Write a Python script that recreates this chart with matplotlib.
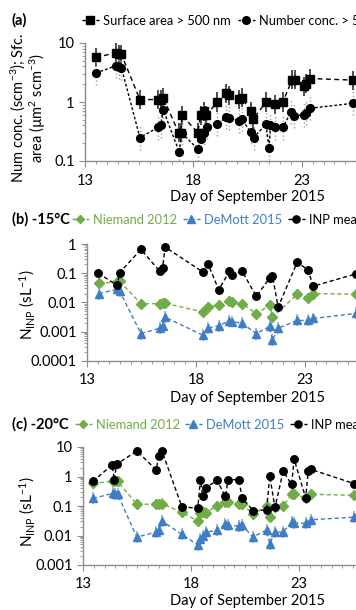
import numpy as np
import matplotlib
matplotlib.use("Agg")
import matplotlib.pyplot as plt
from matplotlib.lines import Line2D
from matplotlib.ticker import FixedLocator, MultipleLocator, FuncFormatter, LogLocator, NullFormatter

plt.rcParams['font.family'] = ['Lato', 'DejaVu Sans']
plt.rcParams['mathtext.fontset'] = 'custom'
plt.rcParams['mathtext.rm'] = 'Lato'
plt.rcParams['mathtext.default'] = 'regular'

# ---------------- data ----------------
# panel (a)
day_sfc = [13.5, 14.42, 14.55, 14.68, 15.53, 16.37, 16.49, 16.61, 17.32, 17.42, 17.47,
           18.2, 18.33, 18.48, 18.6, 19.1, 19.5, 19.63, 20.1, 20.23, 20.63, 20.74,
           21.35, 21.74, 22.12, 22.55, 22.66, 23.08, 23.2, 23.35, 25.35]
sfc_area = [5.7, 6.8, 6.5, 6.4, 1.1, 1.1, 1.1, 1.18, 0.30, 0.30, 0.60,
            0.30, 0.60, 0.70, 0.60, 1.0, 1.4, 1.3, 1.12, 1.18, 0.70, 0.51,
            1.0, 0.91, 1.0, 2.4, 2.4, 1.85, 2.05, 2.5, 2.35]
day_num = [13.5, 14.42, 14.55, 14.68, 15.53, 16.37, 16.49, 16.61, 17.35, 17.45,
           18.2, 18.35, 18.48, 18.63, 19.1, 19.52, 19.65, 20.09, 20.22, 20.63, 20.77,
           21.35, 21.48, 21.55, 21.74, 22.12, 22.51, 22.62, 23.08, 23.2, 23.35, 25.35]
num_conc = [3.1, 4.1, 3.9, 3.8, 0.25, 0.37, 0.40, 0.73, 0.14, 0.30,
            0.16, 0.235, 0.30, 0.38, 0.42, 0.56, 0.53, 0.48, 0.52, 0.31, 0.25,
            0.42, 0.164, 0.40, 0.37, 0.37, 0.69, 0.59, 0.60, 0.65, 0.78, 0.95]

# panel (b) -15 C
day_b_inp = [13.52, 14.39, 14.5, 15.48, 16.35, 16.47, 16.59, 18.32, 18.56, 19.05, 19.54,
             19.67, 20.13, 20.78, 21.39, 21.52, 21.78, 22.66, 23.14, 23.4, 25.37]
inp_b = [0.1, 0.038, 0.105, 0.65, 0.115, 0.15, 0.78, 0.11, 0.21, 0.027, 0.115,
         0.087, 0.115, 0.016, 0.068, 0.082, 0.0069, 0.24, 0.13, 0.036, 0.095]
day_b_nie = [13.55, 14.39, 14.5, 15.48, 16.35, 16.47, 16.59, 18.32, 18.56, 19.05, 19.54,
             19.67, 20.13, 20.78, 21.39, 21.52, 22.66, 23.14, 23.4, 25.37]
niemand_b = [0.045, 0.05, 0.052, 0.009, 0.009, 0.0093, 0.0093, 0.0047, 0.0069, 0.008, 0.011,
             0.0103, 0.009, 0.0041, 0.0079, 0.0031, 0.019, 0.0145, 0.02, 0.019]
day_b_dem = [13.55, 14.39, 14.5, 15.48, 16.35, 16.47, 16.59, 18.32, 18.56, 19.05, 19.54,
             19.67, 20.13, 20.78, 21.39, 21.52, 21.78, 22.66, 23.14, 23.4, 25.37]
demott_b = [0.02, 0.028, 0.024, 0.00085, 0.0013, 0.0015, 0.0031, 0.00075, 0.0013, 0.0016, 0.0023,
            0.0022, 0.0019, 0.00085, 0.0015, 0.0005, 0.0013, 0.0024, 0.0024, 0.0028, 0.0042]

# panel (c) -20 C
day_c_inp = [13.46, 14.35, 14.45, 14.55, 15.49, 16.38, 16.51, 16.65, 17.57, 18.31, 18.43,
             18.54, 18.69, 19.2, 19.59, 19.71, 20.21, 20.36, 20.87, 21.49, 21.64, 21.88,
             22.26, 22.65, 22.77, 23.3, 23.42, 23.54, 25.55]
inp_c = [0.68, 2.5, 0.75, 2.6, 7.3, 1.7, 4.9, 7.5, 0.095, 0.083, 0.78,
         0.21, 0.42, 0.74, 0.21, 0.78, 0.78, 0.19, 0.07, 0.073, 1.04, 0.09,
         1.5, 0.54, 3.8, 0.19, 1.5, 1.75, 0.57]
day_c_nie = [13.46, 14.38, 14.5, 14.6, 15.49, 16.38, 16.51, 16.65, 17.57, 18.31, 18.43,
             18.54, 18.69, 19.2, 19.59, 19.71, 20.21, 20.36, 20.87, 21.49, 21.64,
             22.26, 22.65, 22.77, 23.3, 23.54, 25.55]
niemand_c = [0.58, 0.7, 0.7, 0.68, 0.115, 0.115, 0.115, 0.12, 0.061, 0.031, 0.06,
             0.065, 0.06, 0.10, 0.14, 0.135, 0.117, 0.117, 0.052, 0.10, 0.042,
             0.10, 0.25, 0.25, 0.19, 0.25, 0.23]
day_c_dem = [13.46, 14.38, 14.5, 14.6, 15.49, 16.38, 16.51, 16.65, 17.57, 18.31, 18.43,
             18.54, 18.69, 19.2, 19.59, 19.71, 20.21, 20.36, 20.87, 21.49, 21.64, 21.88,
             22.26, 22.65, 22.77, 23.3, 23.54, 25.55]
demott_c = [0.18, 0.27, 0.25, 0.25, 0.0088, 0.013, 0.015, 0.031, 0.011, 0.0048, 0.0075,
            0.0095, 0.013, 0.015, 0.024, 0.022, 0.021, 0.022, 0.0088, 0.0155, 0.0052, 0.013,
            0.013, 0.028, 0.026, 0.026, 0.034, 0.042]

# multiplicative uncertainty factors
err_sfc = 1.45
err_num = 1.6
err_nie = 1.5
err_dem = 1.6
err_inp = 1.25

x_major = [13, 18, 23]
xlabel = "Day of September 2015"
labels_a = ['Surface area > 500 nm', 'Number conc. > 500 nm']
labels_inp = ['Niemand 2012', 'DeMott 2015', 'INP mean']

GREEN = '#70AD47'
BLUE = '#3F7DC6'
GREEN_E = '#A9D08E'
BLUE_E = '#8FB4E3'
AXC = '#8C8C8C'

LEG_FS = 9.3
TICK_FS = 10.5
LAB_FS = 10.5

W, H = 356, 610
fig = plt.figure(figsize=(W / 100, H / 100), dpi=100)


def px_axes(x0, x1, ytop, ybot):
    return fig.add_axes([x0 / W, 1 - ybot / H, (x1 - x0) / W, (ybot - ytop) / H])


def logerr(v, f):
    v = np.asarray(v, float)
    return np.vstack([v - v / f, v * f - v])


def style(ax, ylim):
    ax.set_yscale('log')
    ax.set_ylim(*ylim)
    ax.set_xlim(13, 26)
    for s in ['top', 'right']:
        ax.spines[s].set_visible(False)
    for s in ['left', 'bottom']:
        ax.spines[s].set_color(AXC)
        ax.spines[s].set_linewidth(1.0)
    ax.xaxis.set_major_locator(FixedLocator(x_major))
    ax.xaxis.set_minor_locator(MultipleLocator(0.5))
    ax.yaxis.set_major_locator(LogLocator(base=10, numticks=10))
    ax.yaxis.set_minor_locator(LogLocator(base=10, subs=np.arange(2, 10), numticks=20))
    ax.yaxis.set_minor_formatter(NullFormatter())
    ax.yaxis.set_major_formatter(FuncFormatter(lambda v, p: '{:g}'.format(v)))
    ax.tick_params(which='both', color=AXC, labelsize=TICK_FS, direction='out')
    ax.tick_params(which='major', length=4)
    ax.tick_params(which='minor', length=2.5)
    ax.tick_params(axis='x', pad=5)


def dashed(ax, x, y, color, marker, ms, dash=(3, 2), lw=1.0, zorder=3):
    ax.plot(x, y, color=color, lw=lw, dashes=dash, marker=marker, ms=ms,
            mec=color, mfc=color, zorder=zorder, clip_on=False)


def legend_row(handles, labels, xs, yc, colored):
    for h, lab, x0 in zip(handles, labels, xs):
        kw = dict(labelcolor='linecolor') if colored else {}
        fig.legend([h], [lab], loc='center left',
                   bbox_to_anchor=(x0 / W, 1 - yc / H), bbox_transform=fig.transFigure,
                   frameon=False, borderpad=0, borderaxespad=0, handlelength=1.3,
                   handletextpad=0.3, fontsize=LEG_FS, **kw)


# ---------------- panel (a) ----------------
ax_a = px_axes(85, 367, 43, 161)
style(ax_a, (0.1, 10))
ax_a.errorbar(day_sfc, sfc_area, yerr=logerr(sfc_area, err_sfc), fmt='none',
              ecolor='#404040', elinewidth=1.3, zorder=2)
eb = ax_a.errorbar(day_num, num_conc, yerr=logerr(num_conc, err_num), fmt='none',
                   ecolor='#A0A0A0', elinewidth=1.0, zorder=2)
for lc in eb.lines[2]:
    lc.set_linestyle(':')
dashed(ax_a, day_sfc, sfc_area, 'black', 's', 5.8, dash=(3.5, 2.5))
dashed(ax_a, day_num, num_conc, 'black', 'o', 5.6, dash=(2, 1.5))
fig.text(28 / W, 1 - 108 / H, 'Num conc. (scm$^{-3}$); Sfc.\narea (µm$^{2}$ scm$^{-3}$)',
         fontsize=LAB_FS, rotation=90, ha='center', va='center', multialignment='center',
         linespacing=1.05)

h_a = [Line2D([], [], color='black', lw=1.0, dashes=(3, 2), marker='s', ms=5.5),
       Line2D([], [], color='black', lw=1.0, dashes=(2, 1.5), marker='o', ms=5.5)]
legend_row(h_a, labels_a, [82, 238], 21, False)
fig.text(12 / W, 1 - 20 / H, '(a)', fontsize=10.5, fontweight='bold', va='center', ha='left')
fig.text(248 / W, 1 - 197 / H, xlabel, fontsize=LAB_FS, va='center', ha='center')


# ---------------- panels (b) and (c) ----------------
def inp_panel(ax, d_inp, v_inp, d_nie, v_nie, d_dem, v_dem, tag, ytitle, ymid, ylab_y, xs):
    ax.errorbar(d_nie, v_nie, yerr=logerr(v_nie, err_nie), fmt='none', ecolor=GREEN_E,
                elinewidth=1.3, zorder=2)
    ax.errorbar(d_dem, v_dem, yerr=logerr(v_dem, err_dem), fmt='none', ecolor=BLUE_E,
                elinewidth=1.3, zorder=2)
    ax.errorbar(d_inp, v_inp, yerr=logerr(v_inp, err_inp), fmt='none', ecolor='#303030',
                elinewidth=0.8, zorder=2)
    dashed(ax, d_nie, v_nie, GREEN, 'D', 4.6, dash=(3, 2))
    dashed(ax, d_dem, v_dem, BLUE, '^', 6.0, dash=(3, 2))
    dashed(ax, d_inp, v_inp, 'black', 'o', 5.4, dash=(3, 2))
    fig.text(27 / W, 1 - ylab_y / H, 'N$_{INP}$ (sL$^{-1}$)', fontsize=11,
             rotation=90, ha='center', va='center')
    hs = [Line2D([], [], color=GREEN, lw=1.0, dashes=(3, 2), marker='D', ms=4.5),
          Line2D([], [], color=BLUE, lw=1.0, dashes=(3, 2), marker='^', ms=5.5),
          Line2D([], [], color='black', lw=1.0, dashes=(3, 2), marker='o', ms=5.2)]
    legend_row(hs, labels_inp, xs, ytitle + 1, True)
    fig.text(12 / W, 1 - ytitle / H, tag, fontsize=10.5, fontweight='bold', va='center', ha='left')
    fig.text(248 / W, 1 - ymid / H, xlabel, fontsize=LAB_FS, va='center', ha='center')


ax_b = px_axes(87, 370, 244, 360.7)
style(ax_b, (0.0001, 1))
inp_panel(ax_b, day_b_inp, inp_b, day_b_nie, niemand_b, day_b_dem, demott_b,
          '(b) -15°C', 219, 398, 305, [72, 183, 288])

ax_c = px_axes(83, 364, 447, 565)
style(ax_c, (0.001, 10))
inp_panel(ax_c, day_c_inp, inp_c, day_c_nie, niemand_c, day_c_dem, demott_c,
          '(c) -20°C', 424, 601, 512, [75, 185, 290])

fig.savefig('out.png', dpi=100)
